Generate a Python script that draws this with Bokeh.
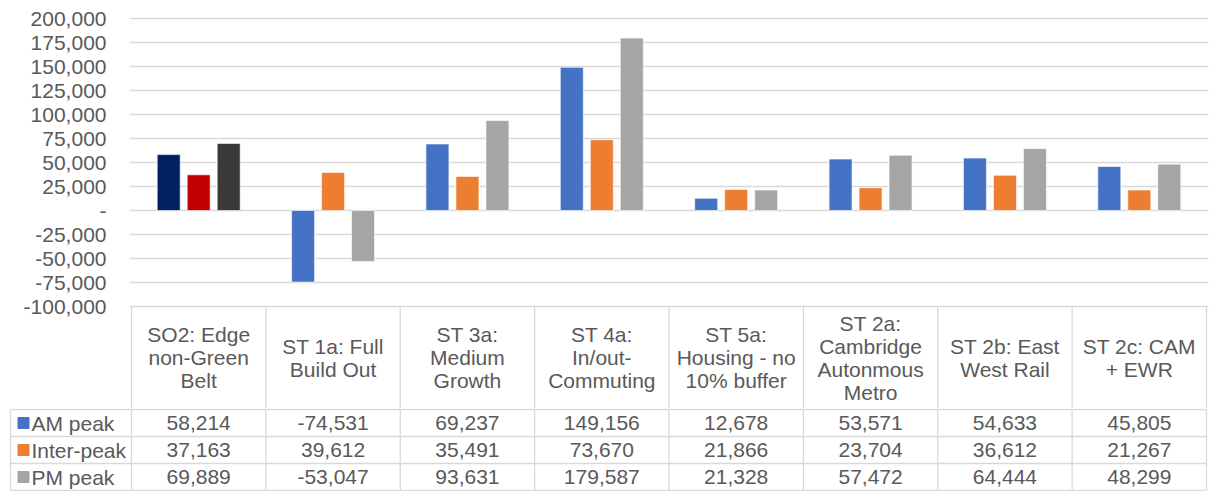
from bokeh.plotting import figure
from bokeh.layouts import column
from bokeh.models import Range1d, FixedTicker, NumeralTickFormatter, ColumnDataSource
from bokeh.core.properties import value
from bokeh.embed import file_html
from bokeh.resources import INLINE

# ---------------- data ----------------
CATEGORIES = [
    "SO2: Edge\nnon-Green\nBelt",
    "ST 1a: Full\nBuild Out",
    "ST 3a:\nMedium\nGrowth",
    "ST 4a:\nIn/out-\nCommuting",
    "ST 5a:\nHousing - no\n10% buffer",
    "ST 2a:\nCambridge\nAutonmous\nMetro",
    "ST 2b: East\nWest Rail",
    "ST 2c: CAM\n+ EWR",
]
SERIES = ["AM peak", "Inter-peak", "PM peak"]
AM_PEAK = [58214, -74531, 69237, 149156, 12678, 53571, 54633, 45805]
INTER_PEAK = [37163, 39612, 35491, 73670, 21866, 23704, 36612, 21267]
PM_PEAK = [69889, -53047, 93631, 179587, 21328, 57472, 64444, 48299]
Y_TICKS = [-100000, -75000, -50000, -25000, 0, 25000, 50000, 75000,
           100000, 125000, 150000, 175000, 200000]

SERIES_COLORS = ["#4472C4", "#ED7D31", "#A5A5A5"]
FIRST_COLORS = ["#002060", "#C00000", "#3A3838"]

# ---------------- layout constants ----------------
FIG_W = 1209
X0_PX = 131
X8_PX = 1206
N = len(CATEGORIES)
CW = (X8_PX - X0_PX) / N
TOP_BORDER = 17
CHART_PX = 288
HEADER_PX = 102
H1 = TOP_BORDER + 1 + CHART_PX + HEADER_PX
H2 = 83
YMIN, YMAX = Y_TICKS[0], Y_TICKS[-1]
PX_PER = CHART_PX / (YMAX - YMIN)

FONT = value("Liberation Sans")
TXT = "#595959"
GRID = "#D9D9D9"
FS = "21px"

# ---------------- chart figure ----------------
p = figure(width=FIG_W, height=H1, output_backend="svg", toolbar_location=None,
           x_range=Range1d(-2 / CW, N + 2 / CW),
           y_range=Range1d(YMIN - HEADER_PX / PX_PER, YMAX + 1 / PX_PER),
           x_axis_location=None,
           min_border_left=X0_PX - 2, min_border_right=FIG_W - X8_PX - 2,
           min_border_top=TOP_BORDER, min_border_bottom=0)
p.frame_align = False
p.outline_line_color = None
p.background_fill_color = "white"
p.border_fill_color = "white"

yax = p.yaxis[0]
yax.ticker = FixedTicker(ticks=Y_TICKS)
yax.formatter = NumeralTickFormatter(format="0,0")
yax.major_label_overrides = {0: "-"}
yax.axis_line_color = None
yax.major_tick_line_color = None
yax.minor_tick_line_color = None
yax.major_tick_in = 0
yax.major_tick_out = 0
yax.major_label_standoff = 23
yax.major_label_text_font = "Liberation Sans"
yax.major_label_text_font_size = FS
yax.major_label_text_color = TXT
p.xgrid.visible = False
p.ygrid.grid_line_color = GRID
p.ygrid.grid_line_width = 1.3

BAR_W = 0.171
PITCH = 0.2232
for s, (vals, col) in enumerate(zip([AM_PEAK, INTER_PEAK, PM_PEAK], SERIES_COLORS)):
    xs = [i + 0.5 + (s - 1) * PITCH for i in range(N)]
    cols = [FIRST_COLORS[s] if i == 0 else col for i in range(N)]
    src = ColumnDataSource(dict(x=xs, top=vals, color=cols))
    p.vbar(x="x", top="top", bottom=0, width=BAR_W, fill_color="color",
           line_color="white", line_alpha=0.6, line_width=1, source=src)

# header row of the data table
p.segment(x0=list(range(N + 1)), x1=list(range(N + 1)),
          y0=[YMIN - HEADER_PX / PX_PER] * (N + 1), y1=[YMIN] * (N + 1),
          line_color=GRID, line_width=1.3)
p.text(x=[i + 0.5 for i in range(N)],
       y=[YMIN - (HEADER_PX / 2) / PX_PER] * N,
       text=CATEGORIES, text_align="center", text_baseline="middle",
       text_font=FONT, text_font_size=FS, text_color=TXT, text_line_height=1.0)

# ---------------- table figure ----------------
ROW_PX = (H2 - 2) / 3
q = figure(width=FIG_W, height=H2, output_backend="svg", toolbar_location=None,
           x_range=Range1d(-X0_PX / CW, N + (FIG_W - X8_PX) / CW),
           y_range=Range1d(-1 / ROW_PX, 3 + 1 / ROW_PX),
           x_axis_location=None, y_axis_location=None,
           min_border_left=0, min_border_right=0, min_border_top=0, min_border_bottom=0)
q.frame_align = False
q.outline_line_color = None
q.xgrid.visible = False
q.ygrid.visible = False

LEFT = (10 - X0_PX) / CW
q.segment(x0=[LEFT] * 4, x1=[N] * 4, y0=[0, 1, 2, 3], y1=[0, 1, 2, 3],
          line_color=GRID, line_width=1.3)
vx = [LEFT] + list(range(N + 1))
q.segment(x0=vx, x1=vx, y0=[0] * len(vx), y1=[3] * len(vx),
          line_color=GRID, line_width=1.3)

row_y = [2.5, 1.5, 0.5]
q.scatter(x=[(23 - X0_PX) / CW] * 3, y=row_y, marker="square", size=11,
          color=SERIES_COLORS)
q.text(x=[(31 - X0_PX) / CW] * 3, y=row_y, text=SERIES, text_align="left",
       text_baseline="middle", text_font=FONT, text_font_size=FS, text_color=TXT)

for vals, yy in zip([AM_PEAK, INTER_PEAK, PM_PEAK], row_y):
    q.text(x=[i + 0.5 for i in range(N)], y=[yy] * N,
           text=[f"{v:,}" for v in vals], text_align="center", text_baseline="middle",
           text_font=FONT, text_font_size=FS, text_color=TXT)

layout = column(p, q, spacing=0)
open("out.html", "w").write(file_html(layout, INLINE))
